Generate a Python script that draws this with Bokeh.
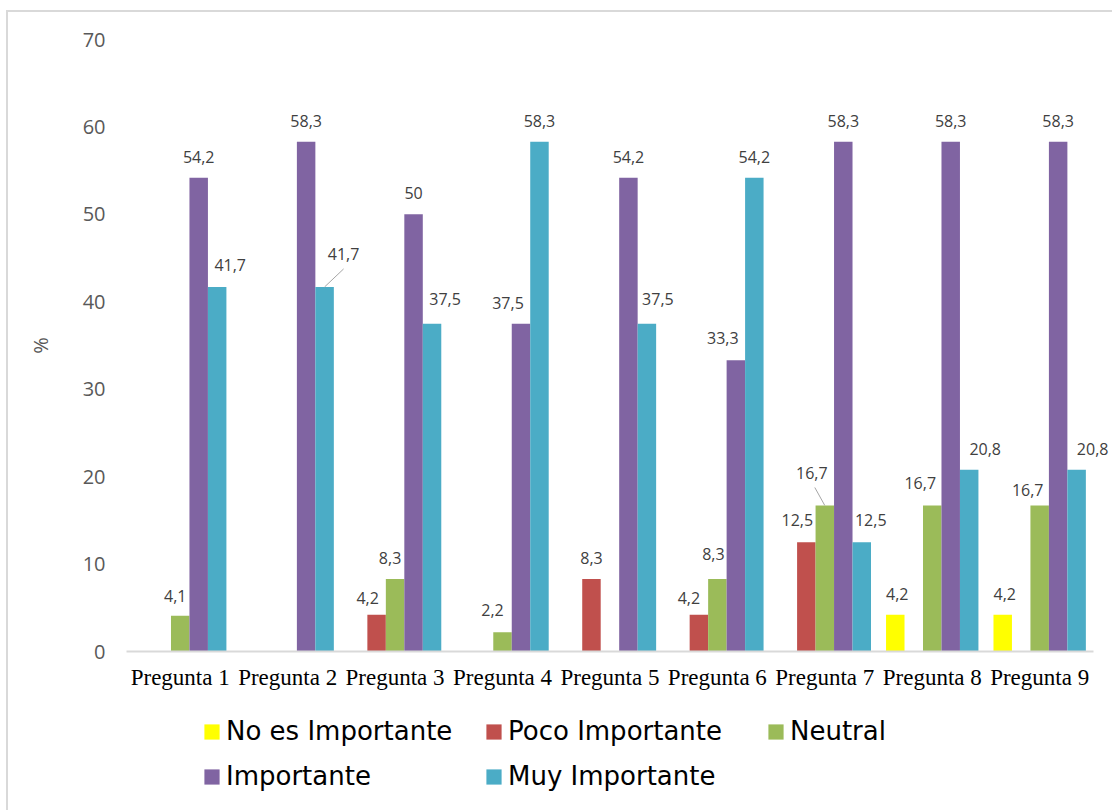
import numpy as np
from bokeh.plotting import figure
from bokeh.layouts import column
from bokeh.models import Range1d, ColumnDataSource, Legend, LegendItem, FixedTicker
from bokeh.core.properties import value
from bokeh.embed import file_html
from bokeh.resources import INLINE

# ---------------- data ----------------
categories = ["Pregunta 1", "Pregunta 2", "Pregunta 3", "Pregunta 4", "Pregunta 5",
              "Pregunta 6", "Pregunta 7", "Pregunta 8", "Pregunta 9"]
series_names = ["No es Importante", "Poco Importante", "Neutral", "Importante", "Muy Importante"]
no_es_importante = [0, 0, 0, 0, 0, 0, 0, 4.2, 4.2]
poco_importante = [0, 0, 4.2, 0, 8.3, 4.2, 12.5, 0, 0]
neutral = [4.1, 0, 8.3, 2.2, 0, 8.3, 16.7, 16.7, 16.7]
importante = [54.2, 58.3, 50, 37.5, 54.2, 33.3, 58.3, 58.3, 58.3]
muy_importante = [41.7, 41.7, 37.5, 58.3, 37.5, 54.2, 12.5, 20.8, 20.8]
y_ticks = [0, 10, 20, 30, 40, 50, 60, 70]
y_axis_title = "%"

# ---------------- style ----------------
colors = ["#FFFF00", "#C0504D", "#9BBB59", "#8064A2", "#4BACC6"]
W, H1, H2 = 1104, 690, 108
ML, MR, MT = 118, 3, 27
FRAME_H = 612
MB = H1 - MT - FRAME_H
pad_right = 0.15          # extra room (in category widths) for outside labels
n = len(categories)
frame_w = W - ML - MR
px_per_cat = frame_w / (n + pad_right)
px_per_unit = FRAME_H / (y_ticks[-1] - y_ticks[0])
slot = 0.172
offsets = [-2 * slot, -slot, 0, slot, 2 * slot]
centers = np.arange(n) + 0.5

# label nudges in screen pixels (dx, dy) relative to bar top centre; default (0, -21)
default_nudge = (0, -21)
nudges = {
    (2, 0): (-5, -20), (4, 0): (13, -22),
    (4, 1): (19, -33),
    (1, 2): (-9, -17), (2, 2): (-5, -21), (4, 2): (13, -25),
    (2, 3): (-10, -22), (3, 3): (-13, -21),
    (4, 4): (11, -25),
    (1, 5): (-10, -17), (2, 5): (-4, -25), (3, 5): (-13, -22),
    (1, 6): (-9, -22), (2, 6): (-13, -32), (4, 6): (9, -22),
    (0, 7): (2, -21), (2, 7): (-12, -22), (4, 7): (16, -21),
    (0, 8): (2, -21), (2, 8): (-12, -15), (4, 8): (16, -21),
}
# leader lines: (series, category, end dx px, end dy px)
leaders = [(4, 1, 19, -18), (2, 6, -10, -18)]

all_series = [no_es_importante, poco_importante, neutral, importante, muy_importante]


def fmt(v):
    if float(v).is_integer():
        return str(int(v))
    return str(v).replace(".", ",")


p = figure(width=W, height=H1,
           x_range=Range1d(0, n + pad_right),
           y_range=Range1d(y_ticks[0], y_ticks[-1]),
           output_backend="svg", toolbar_location=None,
           min_border_left=ML, min_border_right=MR, min_border_top=MT, min_border_bottom=MB)
p.outline_line_color = None
p.xgrid.visible = False
p.ygrid.visible = False
p.background_fill_color = "white"
p.border_fill_color = "white"

for si, (name, vals, col) in enumerate(zip(series_names, all_series, colors)):
    src = ColumnDataSource(dict(x=centers + offsets[si], val=vals))
    p.vbar(x="x", top="val", width=slot, source=src, fill_color=col, line_color=None)
    xs, vals_l, labs, dxs, dys = [], [], [], [], []
    for ci, v in enumerate(vals):
        if v == 0:
            continue
        dx, dy = nudges.get((si, ci), default_nudge)
        xs.append(centers[ci] + offsets[si])
        vals_l.append(v)
        labs.append(fmt(v))
        dxs.append(dx)
        dys.append(dy)
    lsrc = ColumnDataSource(dict(x=xs, val=vals_l, label=labs, dx=dxs, dy=dys))
    p.text(x="x", y="val", text="label", x_offset="dx", y_offset="dy", source=lsrc,
           text_font=value("Open Sans"), text_font_size="16px", text_color="#404040",
           text_align="center", text_baseline="middle")

for si, ci, ex, ey in leaders:
    v = all_series[si][ci]
    x0 = centers[ci] + offsets[si]
    p.segment(x0=[x0], y0=[v], x1=[x0 + ex / px_per_cat], y1=[v - ey / px_per_unit],
              line_color="#a6a6a6", line_width=1)

# axes
xa = p.xaxis[0]
xa.ticker = FixedTicker(ticks=list(centers))
xa.major_label_overrides = {float(c): cat for c, cat in zip(centers, categories)}
xa.bounds = (0, n)
xa.axis_line_color = "#d9d9d9"
xa.axis_line_width = 2
xa.major_tick_line_color = None
xa.minor_tick_line_color = None
xa.major_tick_out = 0
xa.major_label_standoff = 13
xa.major_label_text_font = "Liberation Serif"
xa.major_label_text_font_size = "23px"
xa.major_label_text_color = "#000000"

ya = p.yaxis[0]
ya.ticker = FixedTicker(ticks=y_ticks)
ya.axis_line_color = None
ya.major_tick_line_color = None
ya.minor_tick_line_color = None
ya.major_tick_out = 0
ya.major_label_standoff = 21
ya.major_label_text_font = "Open Sans"
ya.major_label_text_font_size = "20px"
ya.major_label_text_color = "#595959"
ya.axis_label = y_axis_title
ya.axis_label_text_font = "Open Sans"
ya.axis_label_text_font_size = "20px"
ya.axis_label_text_font_style = "normal"
ya.axis_label_text_color = "#595959"
ya.axis_label_standoff = 26

# ---------------- legend strip ----------------
p2 = figure(width=W, height=H2, x_range=Range1d(0, 1), y_range=Range1d(0, 1),
            x_axis_type=None, y_axis_type=None, output_backend="svg", toolbar_location=None,
            min_border=0)
p2.outline_line_color = None
p2.xgrid.visible = False
p2.ygrid.visible = False
items = []
for name, col in zip(series_names, colors):
    # placeholder patch far outside the visible ranges, only used for the legend swatch
    r = p2.quad(left=[-5], right=[-4], bottom=[-3], top=[-2], fill_color=col, line_color=None)
    items.append(LegendItem(label=name, renderers=[r]))

legend = Legend(items=items, location=(76, 19), orientation="horizontal", ncols=3,
                border_line_color=None, background_fill_alpha=0, padding=0, margin=0,
                glyph_width=19, glyph_height=19, label_standoff=5, spacing=15,
                label_width=243, label_text_font="DejaVu Sans", label_text_font_size="26px",
                label_text_color="#000000")
p2.add_layout(legend, "center")

layout = column(p, p2, spacing=0)
layout.styles = {"margin-left": "6px", "margin-top": "10px",
                 "border-left": "2px solid #d9d9d9", "border-top": "2px solid #d9d9d9"}

open("out.html", "w").write(file_html(layout, INLINE))
